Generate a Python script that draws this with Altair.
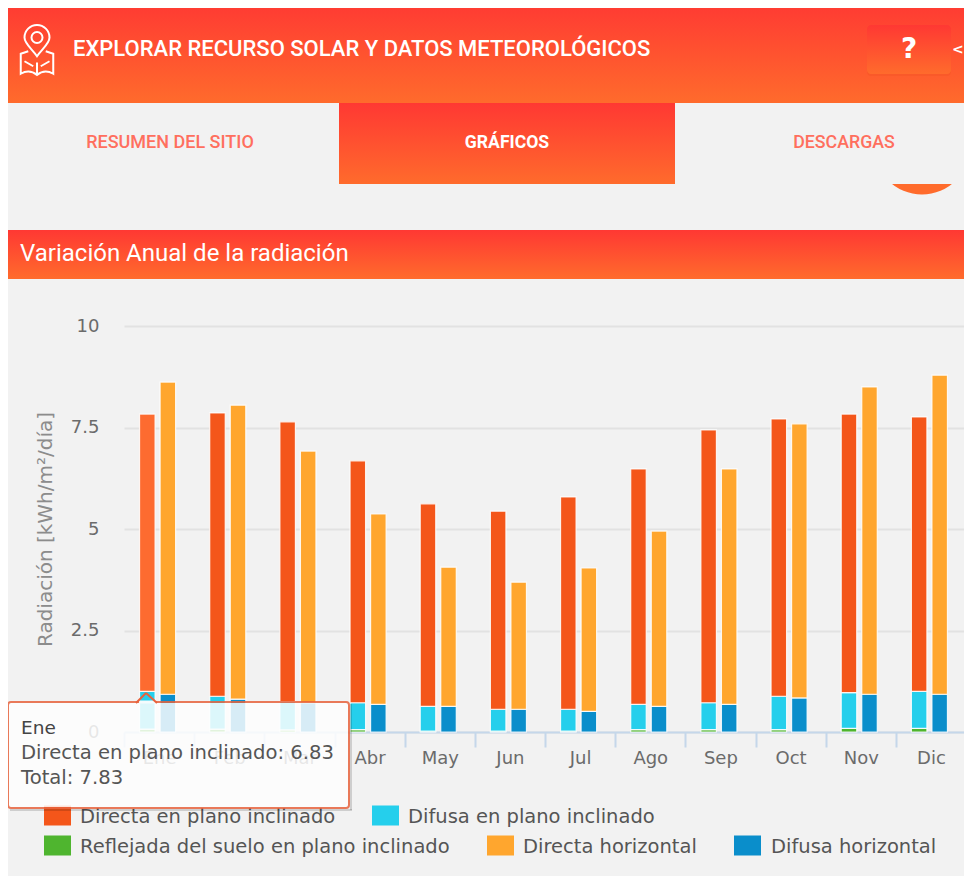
import altair as alt
import pandas as pd

months = ["Ene", "Feb", "Mar", "Abr", "May", "Jun", "Jul", "Ago", "Sep", "Oct", "Nov", "Dic"]
directa_incl = [6.83, 6.98, 6.89, 5.96, 4.99, 4.88, 5.23, 5.80, 6.72, 6.83, 6.86, 6.76]
difusa_incl = [0.93, 0.81, 0.70, 0.66, 0.61, 0.54, 0.54, 0.62, 0.66, 0.82, 0.88, 0.91]
reflejada = [0.07, 0.07, 0.05, 0.06, 0.02, 0.02, 0.02, 0.06, 0.06, 0.06, 0.09, 0.09]
directa_hor = [7.69, 7.24, 6.20, 4.69, 3.43, 3.13, 3.53, 4.32, 5.80, 6.75, 7.57, 7.86]
difusa_hor = [0.93, 0.81, 0.72, 0.68, 0.63, 0.56, 0.51, 0.63, 0.68, 0.84, 0.93, 0.93]

S_DI = "Directa en plano inclinado"
S_DFI = "Difusa en plano inclinado"
S_R = "Reflejada del suelo en plano inclinado"
S_DH = "Directa horizontal"
S_DFH = "Difusa horizontal"
series_names = [S_DI, S_DFI, S_R, S_DH, S_DFH]
series_colors = ["#f4561a", "#25cfec", "#4fb52f", "#ffa62e", "#0a8ecb"]

rows = []
for i, m in enumerate(months):
    for order, (g, s, v) in enumerate([
        ("Inclinado", S_R, reflejada[i]),
        ("Inclinado", S_DFI, difusa_incl[i]),
        ("Inclinado", S_DI, directa_incl[i]),
        ("Horizontal", S_DFH, difusa_hor[i]),
        ("Horizontal", S_DH, directa_hor[i]),
    ]):
        rows.append({"Mes": m, "Grupo": g, "Serie": s, "Valor": v, "Orden": order})
df = pd.DataFrame(rows)

# page position -> chart position
OX, OY = 124, 326
def X(v): return alt.value(v - OX)
def Y(v): return alt.value(v - OY)

one = alt.Data(values=[{"a": 1}])
RED_GRAD = alt.Gradient(gradient="linear", x1=0, x2=0, y1=0, y2=1, stops=[
    alt.GradientStop(color="#ff3833", offset=0), alt.GradientStop(color="#ff6b2c", offset=1)])
BASE_FONT = "DejaVu Sans"
HEAD_FONT = "Roboto"
BG = "#f2f2f2"


def rect(x, x2, y, y2, **kw):
    return alt.Chart(one).mark_rect(**kw).encode(x=X(x), x2=X(x2), y=Y(y), y2=Y(y2))


def label(t, x, y, **kw):
    return alt.Chart(one).mark_text(text=t, baseline="middle", **kw).encode(x=X(x), y=Y(y))


def line(x, x2, y, y2, **kw):
    return alt.Chart(one).mark_rule(**kw).encode(x=X(x), x2=X(x2), y=Y(y), y2=Y(y2))


PIN = ("M0,0.25 C-0.2,-0.05 -0.5,-0.25 -0.5,-0.5 A0.5,0.5 0 1 1 0.5,-0.5 C0.5,-0.25 0.2,-0.05 0,0.25 Z "
       "M0.22,-0.5 A0.22,0.22 0 1 0 -0.22,-0.5 A0.22,0.22 0 1 0 0.22,-0.5 Z "
       "M-0.35,0.05 L-0.65,0.15 L-0.65,0.95 Q-0.3,0.75 0,1 Q0.3,0.75 0.65,0.95 L0.65,0.15 L0.35,0.05 "
       "M0,0.5 L0,1 M-0.5,0.45 L-0.15,0.65 M0.5,0.45 L0.15,0.65")

chrome = [
    alt.Chart(one).mark_circle(size=9409, color="#ff6b2c", opacity=1).encode(x=X(922), y=Y(146)),
    rect(0, 972, 103, 184, fill=BG),
    rect(0, 972, 0, 103, fill=RED_GRAD),
    alt.Chart(one).mark_point(shape=PIN, size=2500, stroke="white", strokeWidth=2, fill=None, opacity=1).encode(x=X(37), y=Y(50)),
    label("EXPLORAR RECURSO SOLAR Y DATOS METEOROLÓGICOS", 73, 49, font=HEAD_FONT, fontSize=22, fontWeight=500, color="white", align="left"),
    rect(867, 951, 26, 76, fill="#f0521f", opacity=0.35, cornerRadius=4),
    rect(867, 951, 25, 74, fill=RED_GRAD, cornerRadius=4),
    label("?", 909, 50, font=BASE_FONT, fontSize=28, fontWeight="bold", color="white", align="center"),
    label("<", 952, 50, font=BASE_FONT, fontSize=14, fontWeight="bold", color="white", align="left"),
    rect(339, 675, 103, 184, fill=RED_GRAD),
    label("RESUMEN DEL SITIO", 170, 143, font=HEAD_FONT, fontSize=18, fontWeight=500, color="#ff6f5e", align="center"),
    label("GRÁFICOS", 507, 143, font=HEAD_FONT, fontSize=17.6, fontWeight="bold", color="white", align="center"),
    label("DESCARGAS", 844, 143, font=HEAD_FONT, fontSize=17.8, fontWeight=500, color="#ff6f5e", align="center"),
    rect(0, 972, 230, 279, fill=RED_GRAD),
    label("Variación Anual de la radiación", 20, 254, font=HEAD_FONT, fontSize=24, color="white", align="left"),
]

bars = alt.Chart(df).mark_bar(stroke="white", strokeWidth=1.2, strokeOpacity=0.85).encode(
    x=alt.X("Mes:N", sort=months, title=None,
            scale=alt.Scale(domain=months, paddingInner=0, paddingOuter=0, range=[0, 842]),
            axis=alt.Axis(labelAngle=0, labelFont=BASE_FONT, labelFontSize=18, labelColor="#6b6b6b", labelPadding=2,
                          domainColor="#c5d7ea", domainWidth=2, tickColor="#c5d7ea", tickWidth=2, tickSize=15,
                          tickBand="extent", grid=False)),
    xOffset=alt.XOffset("Grupo:N", scale=alt.Scale(domain=["Inclinado", "Horizontal"], paddingInner=0.244, paddingOuter=0.83, align=0.456)),
    y=alt.Y("Valor:Q", stack="zero", title="Radiación [kWh/m²/día]",
            scale=alt.Scale(domain=[0, 10], nice=False),
            axis=alt.Axis(values=[0, 2.5, 5, 7.5, 10], labelExpr="toString(datum.value)", domain=False, ticks=False, labelPadding=25,
                          labelFont=BASE_FONT, labelFontSize=18, labelColor="#6b6b6b",
                          titleFont=BASE_FONT, titleFontSize=20, titleFontWeight="normal", titleColor="#8c8c8c", titlePadding=15,
                          gridColor="#e2e2e2", gridWidth=2)),
    color=alt.condition(f"datum.Mes == 'Ene' && datum.Serie == '{S_DI}'", alt.value("#fd6b30"),
                        alt.Color("Serie:N", scale=alt.Scale(domain=series_names, range=series_colors), legend=None)),
    order=alt.Order("Orden:Q"),
)

legend_items = [
    (S_DI, series_colors[0], 44, 80, 815.5),
    (S_DFI, series_colors[1], 372, 408, 815.5),
    (S_R, series_colors[2], 44, 80, 845.5),
    (S_DH, series_colors[3], 487, 523, 845.5),
    (S_DFH, series_colors[4], 734, 771, 845.5),
]
legend = []
for name, col, sx, tx, cy in legend_items:
    legend.append(rect(sx, sx + 27, cy - 10, cy + 10, fill=col))
    legend.append(label(name, tx, cy + 1.5, font=BASE_FONT, fontSize=19.5, color="#555555", align="left"))

TIP = "#e8623c"
tooltip = [
    line(10, 352, 810, 810, color="black", opacity=0.15, strokeWidth=2),
    line(351, 351, 704, 810, color="black", opacity=0.15, strokeWidth=2),
    rect(8, 349, 702, 808, fill="white", opacity=0.84, stroke=TIP, strokeWidth=2, cornerRadius=3),
    line(139, 156, 702, 702, color="#f4fbfd", strokeWidth=3),
    line(136, 146, 703, 693, color=TIP, strokeWidth=2),
    line(146, 157, 693, 703, color=TIP, strokeWidth=2),
    label("Ene", 21, 728, font=BASE_FONT, fontSize=18.5, color="#444444", align="left"),
    label("Directa en plano inclinado: 6.83", 21, 753, font=BASE_FONT, fontSize=19.6, color="#555555", align="left"),
    label("Total: 7.83", 21, 778, font=BASE_FONT, fontSize=19.6, color="#555555", align="left"),
]

chart = alt.layer(*chrome, bars, *legend, *tooltip).properties(
    width=840, height=406,
    padding={"left": 116, "top": 318, "right": 0, "bottom": 144},
    autosize=alt.AutoSizeParams(type="none"),
    background=BG,
).configure_view(stroke=None)

chart.save("out.html", embed_options={"renderer": "svg", "actions": False})
